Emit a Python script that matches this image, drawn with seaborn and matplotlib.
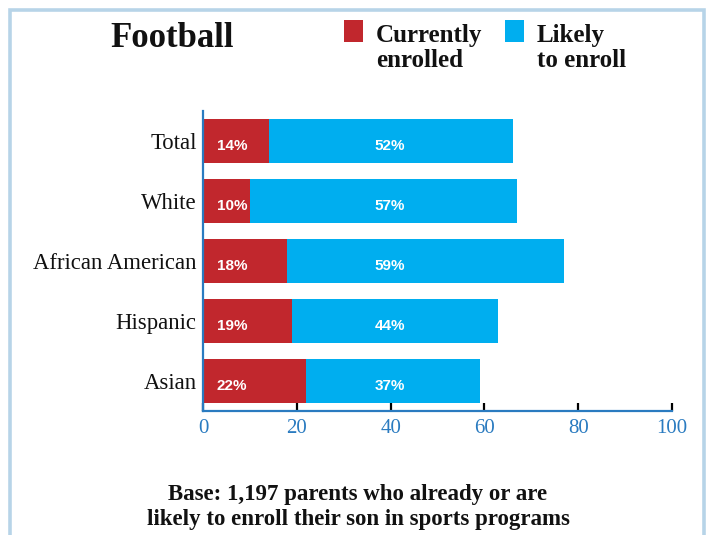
import matplotlib
matplotlib.use("Agg")
import matplotlib.pyplot as plt
import matplotlib.patches as mpatches
from matplotlib.lines import Line2D
import seaborn as sns
import pandas as pd

# Survey shares (%) by group
groups = ["Total", "White", "African American", "Hispanic", "Asian"]
currently_enrolled = [14, 10, 18, 19, 22]
likely_to_enroll = [52, 57, 59, 44, 37]
x_ticks = [0, 20, 40, 60, 80, 100]

RED = "#c1272d"
BLUE = "#00aeef"
AXIS_BLUE = "#2a7bc0"
FRAME = "#b7d4e8"
INK = "#111111"

df = pd.DataFrame({
    "group": groups,
    "enrolled": currently_enrolled,
    "likely": likely_to_enroll,
})
df["combined"] = df["enrolled"] + df["likely"]

sns.set_theme(style="white")
plt.rcParams["font.family"] = ["Liberation Serif", "DejaVu Serif"]

W, H = 711, 535
fig = plt.figure(figsize=(W / 100, H / 100), dpi=100)


def fx(px):
    return px / W


def fy(py):
    return 1 - py / H


ax = fig.add_axes([fx(203), fy(411), fx(672) - fx(203), (411 - 111) / H])

# Stacked horizontal bars: the full length first, enrolled share on top
sns.barplot(data=df, y="group", x="combined", color=BLUE, orient="h",
            width=0.72, saturation=1, ax=ax, order=groups)
sns.barplot(data=df, y="group", x="enrolled", color=RED, orient="h",
            width=0.72, saturation=1, ax=ax, order=groups)
for p in ax.patches:
    p.set_linewidth(0)

ax.set_xlim(0, 100)
ax.set_ylim(4.5, -0.5)
ax.set_xlabel("")
ax.set_ylabel("")
ax.set_xticks(x_ticks)
ax.set_xticklabels([str(t) for t in x_ticks], fontsize=15, color=AXIS_BLUE)
ax.tick_params(axis="x", direction="in", length=6, width=1.6, color="black",
               pad=6, bottom=True)
ax.tick_params(axis="y", length=0, pad=4.5, labelsize=16.4, labelcolor=INK)

for side in ("top", "right"):
    ax.spines[side].set_visible(False)
for side in ("left", "bottom"):
    ax.spines[side].set_color(AXIS_BLUE)
    ax.spines[side].set_linewidth(1.6)
    ax.spines[side].set_zorder(5)

# Value labels inside the bars
for i, (e, l) in enumerate(zip(currently_enrolled, likely_to_enroll)):
    ax.text(6.2, i + 0.15, f"{e}%", ha="center", va="baseline", color="white",
            fontsize=11, fontweight="bold", fontfamily="Liberation Sans")
    ax.text(39.9, i + 0.15, f"{l}%", ha="center", va="baseline", color="white",
            fontsize=11, fontweight="bold", fontfamily="Liberation Sans")

# Title
fig.text(fx(110), fy(47), "Football", fontsize=25, fontweight="bold",
         ha="left", va="baseline", color=INK)

# Legend swatches and labels
for x0, col, lines in [(344, RED, ("Currently", "enrolled")),
                       (505, BLUE, ("Likely", "to enroll"))]:
    fig.patches.append(mpatches.Rectangle((fx(x0), fy(42)), 19 / W, 22 / H,
                                          transform=fig.transFigure,
                                          facecolor=col, edgecolor="none"))
    for base, txt in zip((42, 67), lines):
        fig.text(fx(x0 + 32), fy(base), txt, fontsize=18, fontweight="bold",
                 ha="left", va="baseline", color=INK)

# Base note
for base, txt in [(500, "Base: 1,197 parents who already or are"),
                  (525, "likely to enroll their son in sports programs")]:
    fig.text(fx(358), fy(base), txt, fontsize=16.5, fontweight="bold",
             ha="center", va="baseline", color=INK)

# Light frame around the graphic, open at the bottom
fig.lines.append(Line2D([fx(10), fx(10), fx(704), fx(704)],
                        [0, fy(9.5), fy(9.5), 0],
                        transform=fig.transFigure, color=FRAME, lw=2.6,
                        solid_joinstyle="miter"))

fig.savefig("out.png", dpi=100)
